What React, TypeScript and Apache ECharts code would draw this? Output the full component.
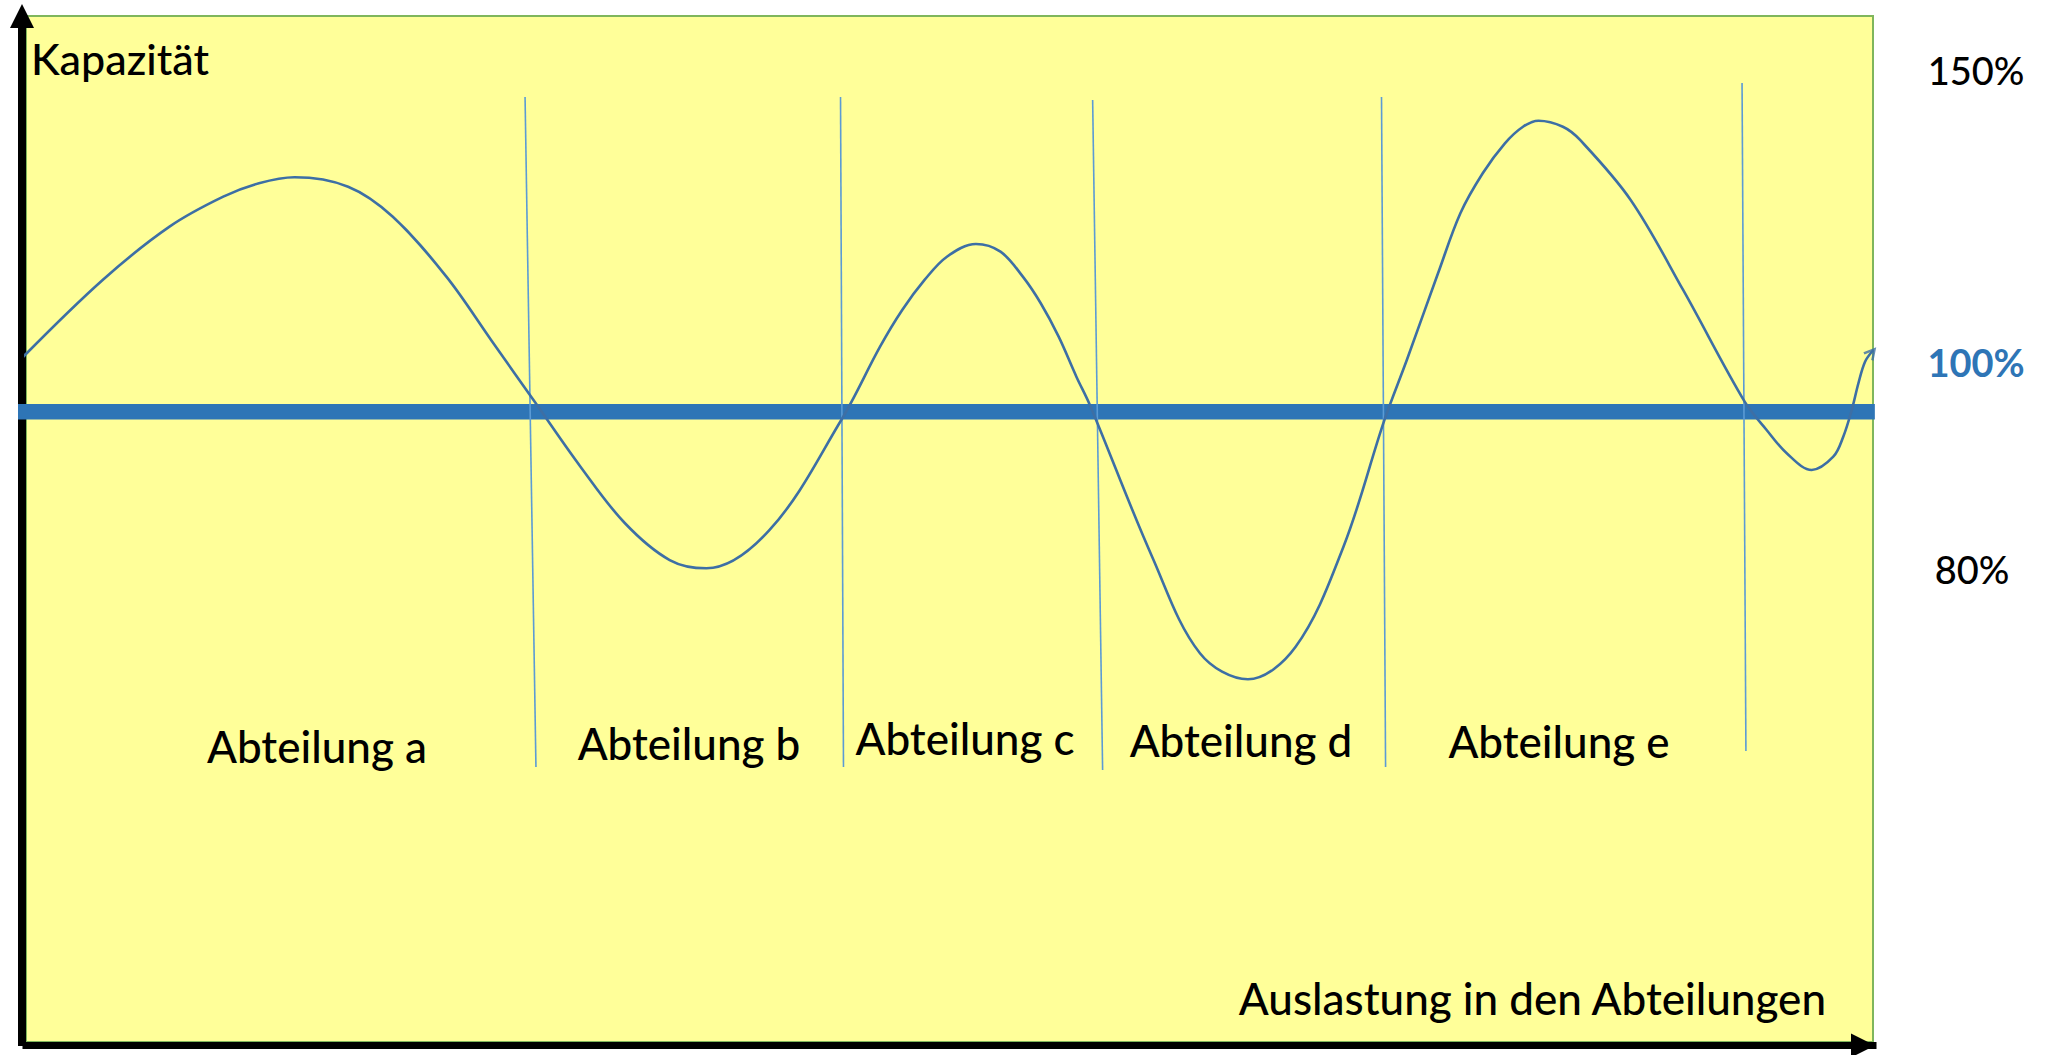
import React, { useEffect, useRef } from "react";
import * as echarts from "echarts";

const WIDTH = 2049;
const HEIGHT = 1055;

// Utilisation curve across the departments (x: position 0–100, y: capacity in %)
const loadX = [
  -0.15, 4.15, 7.77, 10.68, 12.61, 14.54, 17.44, 19.86, 22.76, 25.18, 27.6, 30.02, 32.43,
  34.85, 36.84, 40.26, 44.14, 46.24, 47.44, 48.65, 49.86, 51.43, 52.76, 53.97, 54.94, 55.91,
  56.87, 57.6, 60.97, 63.56, 66.16, 68.74, 71.33, 73.55, 74.76, 76.45, 77.66, 78.87, 80.07,
  81.05, 81.89, 83.21, 84.14, 86.88, 89.72, 93.05, 94.24, 95.33, 96.68, 97.85, 98.39, 98.85,
  99.21, 99.57, 100.02,
];
const loadY = [
  107.85, 118.81, 126.42, 130.7, 132.61, 133.47, 132.13, 127.84, 119.28, 110.24, 101.2, 92.15,
  84.07, 78.82, 77.64, 83.11, 98.81, 109.28, 114.52, 118.81, 122.13, 123.95, 122.85, 119.28,
  115.48, 110.71, 105.0, 100.96, 79.3, 65.5, 61.79, 66.44, 80.72, 98.82, 107.38, 119.76,
  128.33, 134.04, 138.32, 140.69, 141.55, 140.69, 138.8, 130.23, 117.38, 101.43, 97.39, 94.06,
  91.68, 93.57, 96.43, 100.24, 104.06, 107.14, 108.81,
];

// Full-capacity reference line
const targetLevel = 100;
const targetFrom = -0.56;
const targetTo = 100.1;

// Department boundaries (top and bottom end of each divider)
const dividerTopX = [27.02, 44.1, 57.75, 73.39, 92.91];
const dividerTopY = [144.93, 144.93, 144.51, 144.93, 146.93];
const dividerBottomX = [27.61, 44.26, 58.29, 73.61, 93.12];
const dividerBottomY = [49.26, 49.26, 48.84, 49.26, 51.55];

const departments = ["Abteilung a", "Abteilung b", "Abteilung c", "Abteilung d", "Abteilung e"];
const levelLabels = ["150%", "100%", "80%"];
const yAxisTitle = "Kapazität";
const xAxisTitle = "Auslastung in den Abteilungen";

// Layout of the free-standing texts (pixels)
const deptLabelPos = [
  [317, 746],
  [689, 743],
  [965, 738],
  [1241, 740],
  [1559, 741],
];
const levelLabelPos = [
  [1976, 70],
  [1976, 362],
  [1972, 569],
];

const FONT = "Lato, 'Open Sans', sans-serif";
const CURVE_COLOR = "#3D6FA5";

export default function App() {
  const ref = useRef<HTMLDivElement>(null);

  useEffect(() => {
    if (!ref.current) return;
    const chart = echarts.init(ref.current, undefined, { renderer: "svg" });

    const curve = loadX.map((x, i) => [x, loadY[i]]);
    const last = curve[curve.length - 1];
    const dividers = dividerTopX.map((x, i) => ({
      coords: [
        [x, dividerTopY[i]],
        [dividerBottomX[i], dividerBottomY[i]],
      ],
    }));

    const texts: any[] = [];
    texts.push({
      type: "text",
      left: 31,
      top: 37,
      style: { text: yAxisTitle, font: `500 43px ${FONT}`, fill: "#000" },
    });
    texts.push({
      type: "text",
      x: 1826,
      y: 998,
      style: {
        text: xAxisTitle,
        font: `500 44px ${FONT}`,
        fill: "#000",
        align: "right",
        verticalAlign: "middle",
      },
    });
    departments.forEach((d, i) => {
      texts.push({
        type: "text",
        x: deptLabelPos[i][0],
        y: deptLabelPos[i][1],
        style: {
          text: d,
          font: `500 44px ${FONT}`,
          fill: "#000",
          align: "center",
          verticalAlign: "middle",
        },
      });
    });
    levelLabels.forEach((t, i) => {
      const isTarget = i === 1;
      texts.push({
        type: "text",
        x: levelLabelPos[i][0],
        y: levelLabelPos[i][1],
        style: {
          text: t,
          font: `${isTarget ? "bold" : "500"} 38px ${FONT}`,
          fill: isTarget ? "#2E75B6" : "#000",
          align: "center",
          verticalAlign: "middle",
        },
      });
    });

    chart.setOption({
      animation: false,
      backgroundColor: "#FFFFFF",
      grid: {
        left: 26,
        top: 16,
        width: 1847,
        height: 1026,
        show: true,
        backgroundColor: "#FFFF99",
        borderColor: "#7FB65C",
        borderWidth: 2,
      },
      xAxis: {
        type: "value",
        min: 0,
        max: 100,
        offset: 3.5,
        axisLine: {
          show: true,
          onZero: false,
          symbol: ["none", "triangle"],
          symbolSize: [24, 24],
          symbolOffset: [0, -10],
          lineStyle: { color: "#000", width: 7, cap: "square" },
        },
        axisTick: { show: false },
        axisLabel: { show: false },
        splitLine: { show: false },
      },
      yAxis: {
        type: "value",
        min: 10,
        max: 156.5,
        offset: 4,
        axisLine: {
          show: true,
          onZero: false,
          symbol: ["none", "triangle"],
          symbolSize: [24, 24],
          symbolOffset: [0, 0],
          lineStyle: { color: "#000", width: 8, cap: "square" },
        },
        axisTick: { show: false },
        axisLabel: { show: false },
        splitLine: { show: false },
      },
      series: [
        {
          type: "line",
          data: [
            [targetFrom, targetLevel],
            [targetTo, targetLevel],
          ],
          symbol: "none",
          clip: false,
          z: 1,
          lineStyle: { color: "#2E75B6", width: 15.5, cap: "butt" },
        },
        {
          type: "lines",
          coordinateSystem: "cartesian2d",
          data: dividers,
          z: 2,
          lineStyle: { color: "#5B9BD5", width: 1.6, opacity: 1 },
        },
        {
          type: "line",
          data: curve,
          smooth: 0.35,
          symbol: "none",
          clip: false,
          z: 3,
          lineStyle: { color: CURVE_COLOR, width: 2.6 },
        },
        {
          type: "scatter",
          data: [last],
          symbol: "path://M0,10 L6,0 L12,10",
          symbolSize: [11, 10],
          symbolRotate: -40,
          symbolOffset: [-2, 3],
          clip: false,
          z: 4,
          itemStyle: {
            color: "rgba(0,0,0,0)",
            borderColor: CURVE_COLOR,
            borderWidth: 2.4,
          },
        },
      ],
      graphic: texts,
    });

    return () => chart.dispose();
  }, []);

  return (
    <div
      ref={ref}
      style={{ position: "absolute", left: 0, top: 0, width: WIDTH, height: HEIGHT }}
    />
  );
}
